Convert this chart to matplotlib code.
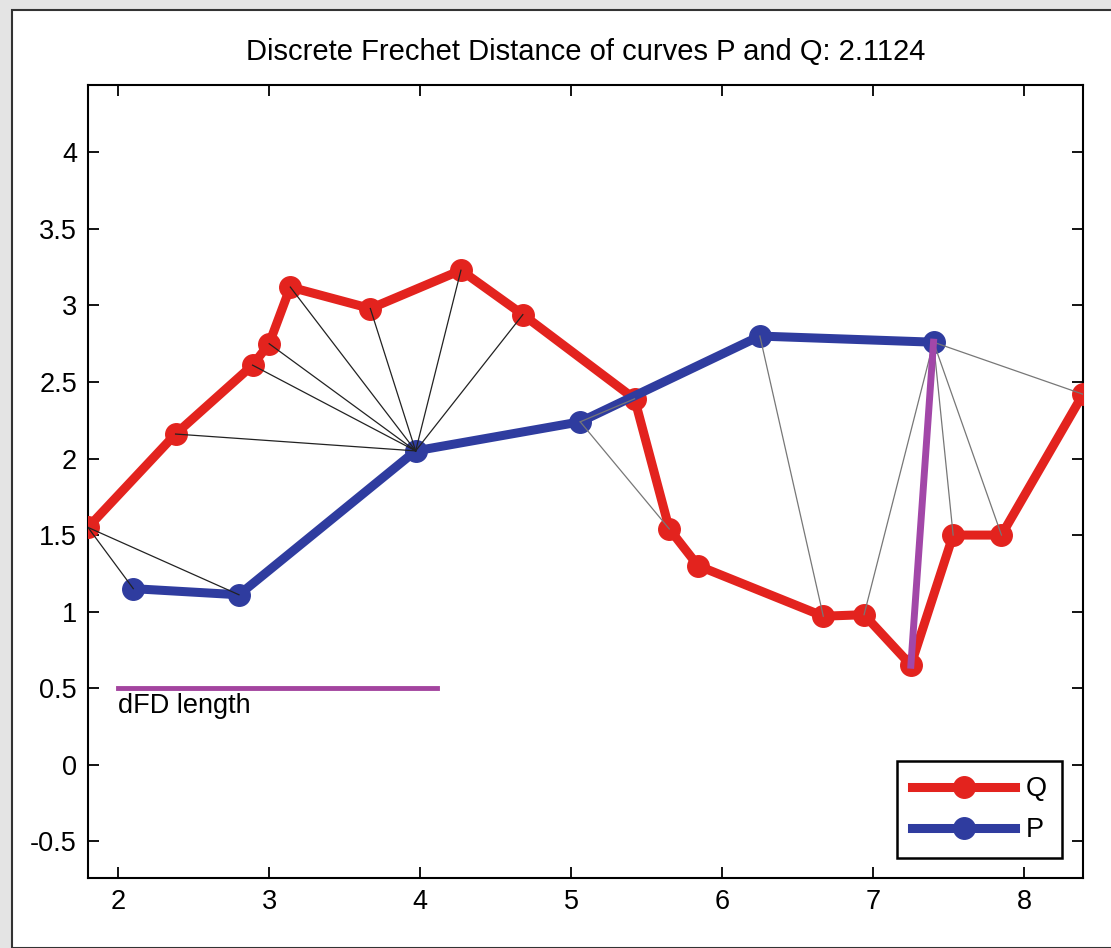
import matplotlib
matplotlib.use("Agg")
import matplotlib.pyplot as plt
from matplotlib.patches import Rectangle

plt.rcParams["font.family"] = ["Liberation Sans", "DejaVu Sans"]

# curve Q (red) and curve P (blue)
q_x = [1.80, 2.38, 2.89, 3.00, 3.14, 3.67, 4.27, 4.68, 5.42, 5.65, 5.84, 6.67, 6.94, 7.25, 7.53, 7.85, 8.39]
q_y = [1.55, 2.16, 2.61, 2.75, 3.12, 2.98, 3.23, 2.94, 2.39, 1.54, 1.30, 0.97, 0.98, 0.65, 1.50, 1.50, 2.42]
p_x = [2.10, 2.80, 3.97, 5.06, 6.25, 7.40]
p_y = [1.15, 1.11, 2.05, 2.24, 2.80, 2.76]

# coupling pairs (index in P, index in Q)
pares = [(0, 0), (1, 0), (2, 1), (2, 2), (2, 3), (2, 4), (2, 5), (2, 6), (2, 7),
         (3, 8), (3, 9), (4, 11), (5, 12), (5, 14), (5, 15), (5, 16)]
par_max = (5, 13)
dfd = 2.1124

x_ticks = [2, 3, 4, 5, 6, 7, 8]
y_ticks = [-0.5, 0, 0.5, 1, 1.5, 2, 2.5, 3, 3.5, 4]
y_labels = ["-0.5", "0", "0.5", "1", "1.5", "2", "2.5", "3", "3.5", "4"]

fig = plt.figure(figsize=(11.11, 9.48), dpi=100, facecolor="#e4e4e4")
fig.patches.append(Rectangle((12 / 1111, 0), 1.0, 1 - 10 / 948, transform=fig.transFigure,
                             facecolor="white", edgecolor="#333333", linewidth=1.5, zorder=-1))

ax = fig.add_axes([88 / 1111, 1 - 878 / 948, 995 / 1111, 793 / 948])
ax.set_zorder(2)
ax.set_facecolor("white")

ax.plot(q_x, q_y, "-o", color="#e3231e", linewidth=6.5, markersize=15.5, label="Q", zorder=3)
ax.plot(p_x, p_y, "-o", color="#2f3c9f", linewidth=6.5, markersize=15.5, label="P", zorder=3)

for i, j in pares:
    cor = "#222222" if i <= 2 else "#777777"
    ax.plot([p_x[i], q_x[j]], [p_y[i], q_y[j]], color=cor, linewidth=0.9, zorder=4)

i, j = par_max
ax.plot([p_x[i], q_x[j]], [p_y[i], q_y[j]], color="#a247a8", linewidth=5, zorder=5)

# reference bar with the dFD length
ax.plot([2.0, 2.0 + dfd], [0.5, 0.5], color="#a3449f", linewidth=3.5, zorder=5)
ax.text(2.0, 0.47, "dFD length", fontsize=19.5, va="top", ha="left", zorder=6)

ax.set_xlim(min(q_x), max(q_x))
ax.set_ylim(-0.74, 4.44)
ax.set_xticks(x_ticks)
ax.set_xticklabels([str(t) for t in x_ticks])
ax.set_yticks(y_ticks)
ax.set_yticklabels(y_labels)
ax.tick_params(direction="in", length=8, width=1.3, labelsize=19.5, top=True, right=True, pad=8)
for s in ax.spines.values():
    s.set_linewidth(1.5)
    s.set_color("black")

ax.set_title("Discrete Frechet Distance of curves P and Q: 2.1124", fontsize=21, pad=18)

leg = ax.legend(loc="lower right", bbox_to_anchor=(1 - 21 / 995, 20 / 793), borderaxespad=0,
                fontsize=19.5, fancybox=False, framealpha=1, edgecolor="black",
                handlelength=3.8, handletextpad=0.4, borderpad=0.55, labelspacing=0.55)
leg.get_frame().set_linewidth(1.8)

fig.savefig("out.png", dpi=100, facecolor=fig.get_facecolor())
